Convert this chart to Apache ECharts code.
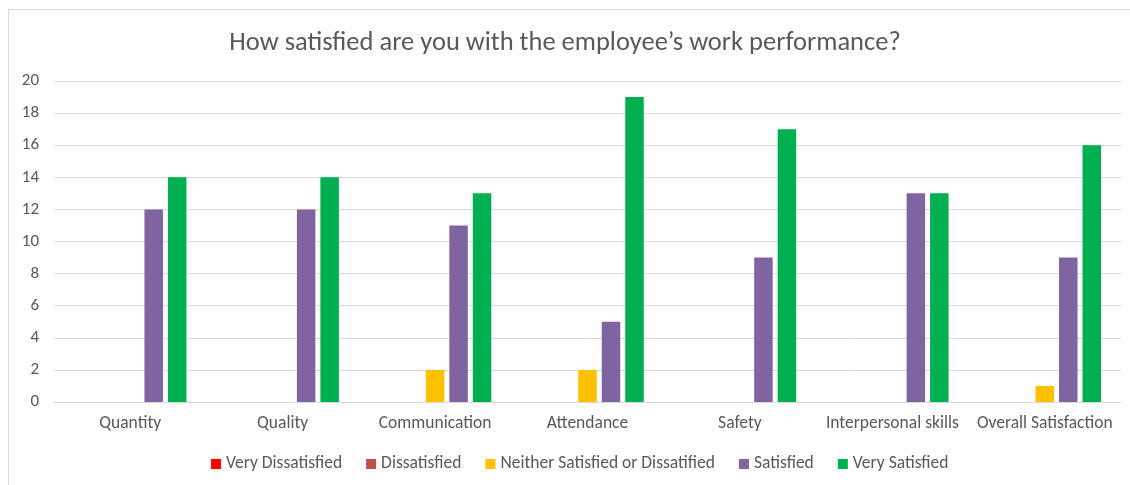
<!DOCTYPE html>
<html>
<head>
<meta charset="utf-8">
<script src="https://cdn.jsdelivr.net/npm/echarts@6/dist/echarts.min.js"></script>
<style>
  html, body { margin: 0; padding: 0; background: #fff; }
  #chart { width: 1130px; height: 485px; }
</style>
</head>
<body>
<div id="chart"></div>
<script>
// Survey responses per performance area
const categories = ['Quantity', 'Quality', 'Communication', 'Attendance', 'Safety', 'Interpersonal skills', 'Overall Satisfaction'];
const seriesNames = ['Very Dissatisfied', 'Dissatisfied', 'Neither Satisfied or Dissatified', 'Satisfied', 'Very Satisfied'];
const veryDissatisfied = [0, 0, 0, 0, 0, 0, 0];
const dissatisfied = [0, 0, 0, 0, 0, 0, 0];
const neither = [0, 0, 2, 2, 0, 0, 1];
const satisfied = [12, 12, 11, 5, 9, 13, 9];
const verySatisfied = [14, 14, 13, 19, 17, 13, 16];
const seriesColors = ['#FF0000', '#C0504D', '#FFC000', '#8064A2', '#00B050'];

const seriesData = [veryDissatisfied, dissatisfied, neither, satisfied, verySatisfied];
const font = 'Calibri, Carlito, "Open Sans", sans-serif';
const textColor = '#595959';

const chart = echarts.init(document.getElementById('chart'));
chart.setOption({
  animation: false,
  textStyle: { fontFamily: font },
  title: {
    text: 'How satisfied are you with the employee\u2019s work performance?',
    left: 'center',
    top: 25,
    textStyle: { fontFamily: font, fontSize: 26.5, fontWeight: 'normal', color: textColor }
  },
  graphic: [{
    type: 'rect',
    shape: { x: 8.5, y: 9.5, width: 1300, height: 700 },
    style: { fill: 'none', stroke: '#d9d9d9', lineWidth: 1 },
    silent: true
  }],
  legend: {
    bottom: 7,
    left: 206,
    itemWidth: 10,
    itemHeight: 10,
    itemGap: 24,
    icon: 'rect',
    textStyle: { fontFamily: font, fontSize: 17.5, color: textColor },
    data: seriesNames
  },
  grid: { left: 54, right: 9, top: 81, bottom: 83 },
  xAxis: {
    type: 'category',
    data: categories,
    axisTick: { show: false },
    axisLine: { lineStyle: { color: '#d9d9d9' } },
    axisLabel: { fontFamily: font, fontSize: 17.5, color: textColor, margin: 13, interval: 0 }
  },
  yAxis: {
    type: 'value',
    min: 0,
    max: 20,
    interval: 2,
    axisLine: { show: false },
    axisTick: { show: false },
    splitLine: { lineStyle: { color: '#d9d9d9' } },
    axisLabel: { fontFamily: font, fontSize: 17, color: textColor, margin: 15 }
  },
  series: seriesNames.map((name, i) => ({
    name: name,
    type: 'bar',
    data: seriesData[i],
    barWidth: 18.5,
    barGap: '27%',
    itemStyle: { color: seriesColors[i] }
  }))
});
</script>
</body>
</html>
